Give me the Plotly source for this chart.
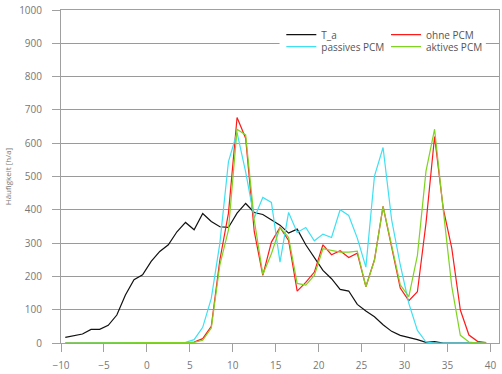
import plotly.graph_objects as go

temp_bins = [-9.5, -8.5, -7.5, -6.5, -5.5, -4.5, -3.5, -2.5, -1.5, -0.5,
             0.5, 1.5, 2.5, 3.5, 4.5, 5.5, 6.5, 7.5, 8.5, 9.5,
             10.5, 11.5, 12.5, 13.5, 14.5, 15.5, 16.5, 17.5, 18.5, 19.5,
             20.5, 21.5, 22.5, 23.5, 24.5, 25.5, 26.5, 27.5, 28.5, 29.5,
             30.5, 31.5, 32.5, 33.5, 34.5, 35.5, 36.5, 37.5, 38.5, 39.5]

t_a = [17, 21, 27, 41, 41, 53, 84, 144, 190, 205,
       245, 275, 295, 334, 362, 340, 389, 365, 349, 347,
       390, 419, 392, 386, 370, 354, 330, 342, 295, 255,
       218, 193, 161, 156, 116, 96, 79, 55, 35, 23,
       17, 10, 2, 4, 0, 0, 0, 0, 0, 0]

ohne_pcm = [0, 0, 0, 0, 0, 0, 0, 0, 0, 0,
            0, 0, 0, 0, 0, 3, 13, 50, 250, 390,
            677, 615, 335, 203, 303, 347, 308, 156, 182, 213,
            295, 265, 277, 257, 270, 169, 250, 410, 290, 165,
            127, 154, 360, 620, 405, 285, 99, 24, 5, 1]

passives_pcm = [0, 0, 0, 0, 0, 0, 0, 0, 0, 0,
                0, 0, 0, 0, 2, 10, 47, 134, 300, 545,
                632, 514, 375, 437, 422, 243, 392, 332, 347, 307,
                327, 317, 400, 383, 315, 228, 501, 587, 370, 235,
                119, 38, 3, 0, 0, 0, 0, 0, 0, 0]

aktives_pcm = [0, 0, 0, 0, 0, 0, 0, 0, 0, 0,
               0, 0, 0, 0, 0, 2, 8, 45, 235, 340,
               642, 625, 370, 206, 268, 347, 317, 179, 174, 203,
               283, 278, 273, 273, 276, 169, 248, 410, 290, 175,
               139, 263, 516, 642, 402, 170, 23, 3, 0, 0]

x_ticks = [-10, -5, 0, 5, 10, 15, 20, 25, 30, 35, 40]
y_ticks = [0, 100, 200, 300, 400, 500, 600, 700, 800, 900, 1000]

series = [
    ("T_a", t_a, "#111111", "legend"),
    ("ohne PCM", ohne_pcm, "#ff1a1a", "legend2"),
    ("passives PCM", passives_pcm, "#3fe0f2", "legend3"),
    ("aktives PCM", aktives_pcm, "#7fd321", "legend4"),
]

fig = go.Figure()
for name, vals, col, lg in series:
    fig.add_trace(go.Scatter(x=temp_bins, y=vals, mode="lines", name=name,
                             line=dict(color=col, width=1.2), legend=lg,
                             showlegend=True))

FONT = "Open Sans"
leg_common = dict(bgcolor="rgba(0,0,0,0)", borderwidth=0,
                  font=dict(family=FONT, size=10, color="#555555"),
                  xanchor="left", yanchor="middle", orientation="v")

fig.update_layout(
    width=502, height=374,
    margin=dict(l=61, r=2, t=8, b=29),
    paper_bgcolor="white", plot_bgcolor="white",
    showlegend=True,
    font=dict(family=FONT, size=10, color="#777777"),
    legend=dict(x=0.503, y=0.926, **leg_common),
    legend2=dict(x=0.742, y=0.926, **leg_common),
    legend3=dict(x=0.503, y=0.890, **leg_common),
    legend4=dict(x=0.742, y=0.890, **leg_common),
    shapes=[dict(type="rect", xref="paper", yref="paper",
                 x0=0.499, x1=0.970, y0=0.852, y1=0.945,
                 fillcolor="white", line=dict(width=0), layer="above")],
)

fig.update_xaxes(range=[-10, 41], tickvals=x_ticks, showgrid=False,
                 showline=True, linecolor="#a0a0a0", linewidth=1, mirror=True,
                 ticks="outside", ticklen=8, tickcolor="#a0a0a0",
                 ticklabelstandoff=5,
                 tickfont=dict(family=FONT, size=10, color="#777777"),
                 zeroline=False)
fig.update_yaxes(range=[0, 1000], tickvals=y_ticks, showgrid=True,
                 gridcolor="#9a9a9a", gridwidth=1,
                 showline=True, linecolor="#a0a0a0", linewidth=1, mirror=True,
                 ticks="outside", ticklen=8, tickcolor="#a0a0a0",
                 ticklabelstandoff=8,
                 tickfont=dict(family=FONT, size=10, color="#777777"),
                 title=dict(text="Häufigkeit [h/a]", standoff=6,
                            font=dict(family=FONT, size=8, color="#777777")),
                 zeroline=False)

fig.write_html("out.html",
               config={"displayModeBar": False},
               post_script="document.body.style.margin='0';"
                           "document.body.style.overflow='hidden';")
